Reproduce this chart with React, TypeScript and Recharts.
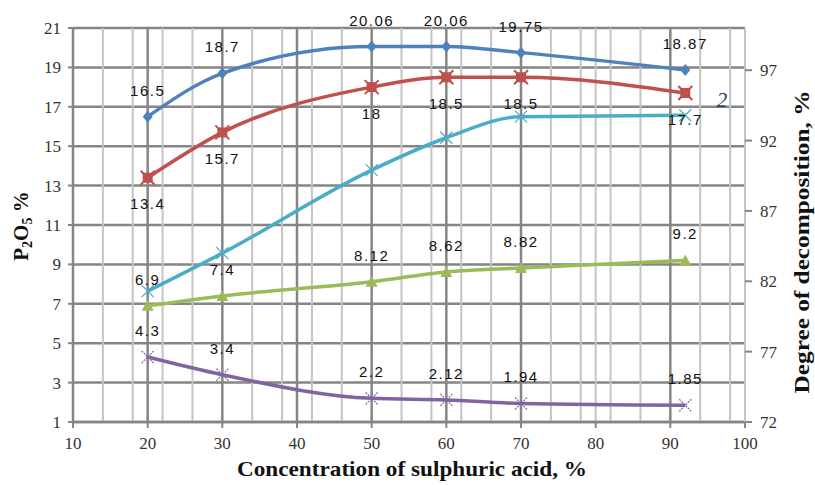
import React from 'react';
import { LineChart, Line, XAxis, YAxis, CartesianGrid, ReferenceLine, LabelList } from 'recharts';

// sulphuric acid concentration, %
const concentration = [20, 30, 50, 60, 70, 92];
// P2O5 content curves (left axis)
const curve1 = [16.5, 18.7, 20.06, 20.06, 19.75, 18.87];
const curve2 = [13.4, 15.7, 18, 18.5, 18.5, 17.7];
const curve4 = [6.9, 7.4, 8.12, 8.62, 8.82, 9.2];
const curve5 = [4.3, 3.4, 2.2, 2.12, 1.94, 1.85];
// degree of decomposition (right axis)
const decomposition = [81.3, 84.0, 89.9, 92.2, 93.7, 93.8];

const xTicks = [10, 20, 30, 40, 50, 60, 70, 80, 90, 100];
const leftTicks = [1, 3, 5, 7, 9, 11, 13, 15, 17, 19, 21];
const rightTicks = [72, 77, 82, 87, 92, 97];
const majorGrid = [20, 30, 40, 50, 60, 70, 90];
const minorGrid = [14, 18, 22, 26, 34, 38, 42, 46, 54, 58, 62, 66, 74, 78, 80, 82, 86, 94, 98, 100];

const data = concentration.map((x, i) => ({
  x,
  c1: curve1[i],
  c2: curve2[i],
  c3: decomposition[i],
  c4: curve4[i],
  c5: curve5[i],
}));

const BLUE = '#4F81BD';
const RED = '#C0504D';
const CYAN = '#4BACC6';
const GREEN = '#9BBB59';
const PURPLE = '#8064A2';

const DiamondDot = ({ cx, cy }: any) =>
  cx == null ? null : <path d={`M${cx},${cy - 6}L${cx + 5},${cy}L${cx},${cy + 6}L${cx - 5},${cy}Z`} fill={BLUE} />;

const StarDot = ({ cx, cy }: any) =>
  cx == null ? null : (
    <g>
      <rect x={cx - 5} y={cy - 5} width={10} height={10} fill={RED} />
      <path d={`M${cx - 7},${cy - 7}L${cx + 7},${cy + 7}M${cx + 7},${cy - 7}L${cx - 7},${cy + 7}`} stroke={RED} strokeWidth={2} />
    </g>
  );

const CrossDot = ({ cx, cy, color, dashed }: any) =>
  cx == null ? null : (
    <path
      d={`M${cx - 6},${cy - 6}L${cx + 6},${cy + 6}M${cx + 6},${cy - 6}L${cx - 6},${cy + 6}`}
      stroke={color}
      strokeWidth={1.2}
      strokeDasharray={dashed ? '2 1' : undefined}
      fill="none"
    />
  );

const TriangleDot = ({ cx, cy }: any) =>
  cx == null ? null : <path d={`M${cx},${cy - 6}L${cx + 6},${cy + 5}L${cx - 6},${cy + 5}Z`} fill={GREEN} />;

const labelStyle = {
  fill: '#111',
  fontSize: 15,
  fontFamily: '"Liberation Sans", Arial, sans-serif',
  letterSpacing: 1.5,
};

const tickStyle = { fill: '#333', fontSize: 17, fontFamily: '"Liberation Serif", "Times New Roman", serif' };
const titleFont = '"Liberation Serif", "Times New Roman", serif';

export default function App() {
  return (
    <div style={{ position: 'absolute', left: 0, top: 0, width: 815, height: 485, background: '#fff' }}>
      <LineChart width={815} height={485} data={data} margin={{ top: 28, right: 0, bottom: 0, left: 0 }}>
        <CartesianGrid yAxisId="left" vertical={false} stroke="#858585" strokeWidth={2.5} />
        {minorGrid.map((v) => (
          <ReferenceLine key={`m${v}`} x={v} yAxisId="left" stroke="#c4c4c4" strokeWidth={2} />
        ))}
        {majorGrid.map((v) => (
          <ReferenceLine key={`M${v}`} x={v} yAxisId="left" stroke="#858585" strokeWidth={2.5} />
        ))}
        <XAxis
          type="number"
          dataKey="x"
          domain={[10, 100]}
          ticks={xTicks}
          height={63}
          axisLine={{ stroke: '#858585', strokeWidth: 2.5 }}
          tickLine={{ stroke: '#858585', strokeWidth: 2 }}
          tickSize={6}
          tickMargin={9}
          tick={tickStyle}
        />
        <YAxis
          yAxisId="left"
          domain={[1, 21]}
          ticks={leftTicks}
          width={73}
          axisLine={{ stroke: '#858585', strokeWidth: 2.5 }}
          tickLine={{ stroke: '#858585', strokeWidth: 2 }}
          tickSize={5}
          tickMargin={7}
          tick={tickStyle}
        />
        <YAxis
          yAxisId="right"
          orientation="right"
          domain={[72, 100]}
          ticks={rightTicks}
          width={70}
          axisLine={{ stroke: '#c4c4c4', strokeWidth: 2 }}
          tickLine={{ stroke: '#858585', strokeWidth: 2 }}
          tickSize={7}
          tickMargin={8}
          tick={tickStyle}
        />
        <Line yAxisId="left" type="monotone" dataKey="c1" stroke={BLUE} strokeWidth={3.5} dot={<DiamondDot />} isAnimationActive={false}>
          <LabelList dataKey="c1" position="top" offset={21} {...labelStyle} />
        </Line>
        <Line yAxisId="left" type="monotone" dataKey="c2" stroke={RED} strokeWidth={3.5} dot={<StarDot />} isAnimationActive={false}>
          <LabelList dataKey="c2" position="bottom" offset={21} {...labelStyle} />
        </Line>
        <Line yAxisId="right" type="monotone" dataKey="c3" stroke={CYAN} strokeWidth={3.5} dot={<CrossDot color={CYAN} />} isAnimationActive={false} />
        <Line yAxisId="left" type="monotone" dataKey="c4" stroke={GREEN} strokeWidth={3.5} dot={<TriangleDot />} isAnimationActive={false}>
          <LabelList dataKey="c4" position="top" offset={21} {...labelStyle} />
        </Line>
        <Line yAxisId="left" type="monotone" dataKey="c5" stroke={PURPLE} strokeWidth={3.5} dot={<CrossDot color={PURPLE} dashed />} isAnimationActive={false}>
          <LabelList dataKey="c5" position="top" offset={21} {...labelStyle} />
        </Line>
        <text x={412} y={476} textAnchor="middle" fontFamily={titleFont} fontWeight="bold" fontSize={21} fill="#111" textLength={350} lengthAdjust="spacingAndGlyphs">
          Concentration of sulphuric  acid, %
        </text>
        <text x={28} y={226} transform="rotate(-90, 28, 226)" textAnchor="middle" fontFamily={titleFont} fontWeight="bold" fontSize={21} fill="#111">
          P<tspan fontSize={14} dy={4}>2</tspan>
          <tspan dy={-4}>O</tspan>
          <tspan fontSize={14} dy={4}>5</tspan>
          <tspan dy={-4}>{'  %'}</tspan>
        </text>
        <text x={809} y={242} transform="rotate(-90, 809, 242)" textAnchor="middle" fontFamily={titleFont} fontWeight="bold" fontSize={21} fill="#111" textLength={303} lengthAdjust="spacingAndGlyphs">
          Degree of decomposition, %
        </text>
        <text x={722} y={107} textAnchor="middle" fontFamily={titleFont} fontStyle="italic" fontSize={21} fill="#1F3864">
          2
        </text>
      </LineChart>
    </div>
  );
}
